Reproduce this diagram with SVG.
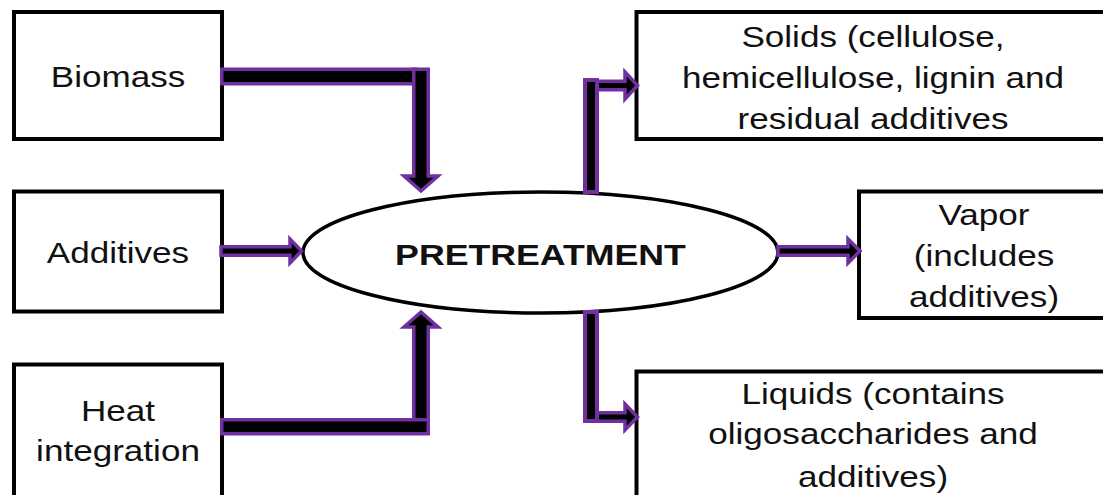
<svg xmlns="http://www.w3.org/2000/svg" width="1103" height="495" viewBox="0 0 1103 495">
<style>
.box{fill:#fff;stroke:#000;stroke-width:4}
.ell{fill:#fff;stroke:#000;stroke-width:3.5}
.t{font-family:"Liberation Sans",Arial,sans-serif;font-size:30px;fill:#111;text-anchor:middle}
.b{font-weight:bold}
.c{fill:#000;stroke:#7030A0;stroke-width:3.5;stroke-linejoin:miter}
.c4{fill:#000;stroke:#7030A0;stroke-width:4;stroke-linejoin:miter}
</style>
<rect width="1103" height="495" fill="#fff"/>
<g id="node-biomass">
<rect class="box" x="14" y="12" width="208" height="127"/>
<text class="t" transform="translate(118 87) scale(1.17 1)">Biomass</text>
</g>
<g id="node-additives">
<rect class="box" x="14" y="191.5" width="208" height="120"/>
<text class="t" transform="translate(118 263) scale(1.17 1)">Additives</text>
</g>
<g id="node-heat">
<rect class="box" x="14" y="364.5" width="208" height="150"/>
<text class="t" transform="translate(118 421) scale(1.17 1)">Heat</text>
<text class="t" transform="translate(118 461) scale(1.17 1)">integration</text>
</g>
<g id="node-pretreatment">
<ellipse class="ell" cx="540.5" cy="252.5" rx="237.5" ry="60.5"/>
<text class="t b" transform="translate(540.5 265) scale(1.19 1)">PRETREATMENT</text>
</g>
<g id="node-solids">
<rect class="box" x="636.5" y="12" width="480" height="127"/>
<text class="t" transform="translate(873 47) scale(1.17 1)">Solids (cellulose,</text>
<text class="t" transform="translate(873 87.5) scale(1.17 1)">hemicellulose, lignin and</text>
<text class="t" transform="translate(873 128.5) scale(1.17 1)">residual additives</text>
</g>
<g id="node-vapor">
<rect class="box" x="859" y="191.5" width="260" height="126.5"/>
<text class="t" transform="translate(984 225) scale(1.17 1)">Vapor</text>
<text class="t" transform="translate(984 266) scale(1.17 1)">(includes</text>
<text class="t" transform="translate(984 307) scale(1.17 1)">additives)</text>
</g>
<g id="node-liquids">
<rect class="box" x="636.5" y="371.5" width="480" height="150"/>
<text class="t" transform="translate(873 403.5) scale(1.17 1)">Liquids (contains</text>
<text class="t" transform="translate(873 444) scale(1.17 1)">oligosaccharides and</text>
<text class="t" transform="translate(873 486.5) scale(1.17 1)">additives)</text>
</g>
<g id="connectors">
<!-- Biomass -> Pretreatment -->
<rect class="c" x="221.75" y="69.25" width="194" height="14.5"/>
<polygon class="c" points="413.75,69.25 428.25,69.25 428.25,176 438,176 421,191 404,176 413.75,176"/>
<!-- Additives -> Pretreatment -->
<polygon class="c" points="221,246.75 290,246.75 290,239 301.5,251 290,263 290,255.25 221,255.25"/>
<!-- Heat integration -> Pretreatment -->
<polygon class="c" points="413.75,425 428.25,425 428.25,327 438,327 421,312 404,327 413.75,327"/>
<rect class="c" x="221.75" y="419.75" width="206.5" height="14"/>
<!-- Pretreatment -> Solids -->
<polygon class="c" points="595,81.25 625,81.25 625,72 637.5,85.5 625,99 625,89.75 595,89.75"/>
<rect class="c4" x="585" y="80" width="12" height="112"/>
<!-- Pretreatment -> Vapor -->
<polygon class="c" points="778,246.75 848,246.75 848,239 860,251 848,263 848,255.25 778,255.25"/>
<!-- Pretreatment -> Liquids -->
<polygon class="c" points="595,412.75 625,412.75 625,404 637.5,417 625,430 625,421.25 595,421.25"/>
<rect class="c4" x="585" y="312" width="12" height="109"/>
</g>
</svg>
